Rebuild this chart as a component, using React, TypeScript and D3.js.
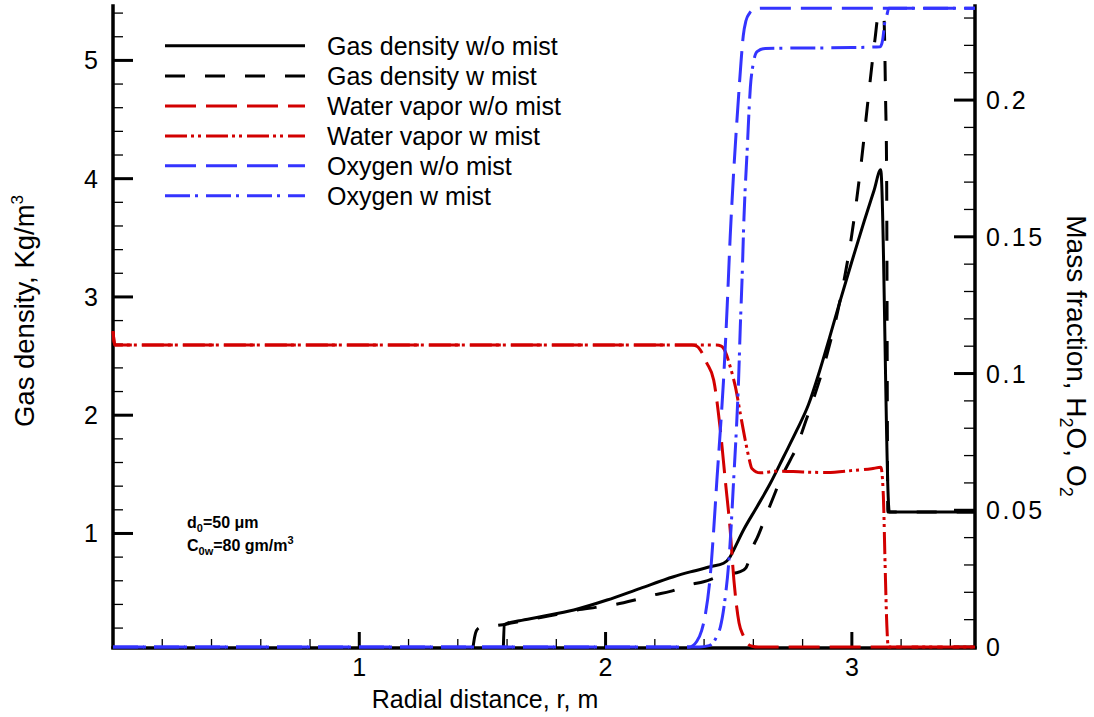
import React from 'react';
import * as d3 from 'd3';

const W = 1094;
const H = 717;
const X0 = 113;
const X1 = 975;
const YT = 6;
const YB = 647;

const xMajor = [1, 2, 3];
const leftMajor = [1, 2, 3, 4, 5];
const rightMajor = [0, 0.05, 0.1, 0.15, 0.2];
const rightLabels = ['0', '0.05', '0.1', '0.15', '0.2'];

// Gas density w/o mist (left axis)
const gasNoMistX = [1.585, 1.589, 1.6, 1.65, 1.736, 1.871, 2.006, 2.141, 2.276, 2.344, 2.425, 2.479, 2.506, 2.52, 2.56, 2.615, 2.669, 2.723, 2.777, 2.824, 2.87, 2.91, 2.95, 3.0, 3.05, 3.09, 3.117, 3.152, 3.2, 3.5];
const gasNoMistV = [0.04, 0.226, 0.24, 0.262, 0.296, 0.353, 0.437, 0.536, 0.634, 0.675, 0.719, 0.748, 0.803, 0.86, 1.029, 1.226, 1.424, 1.649, 1.875, 2.09, 2.38, 2.66, 2.95, 3.3, 3.64, 3.9, 4.075, 1.181, 1.181, 1.181];

// Gas density w mist (left axis)
const gasMistX = [1.462, 1.468, 1.476, 1.49, 1.53, 1.6, 1.65, 1.736, 1.8, 1.885, 1.96, 2.04, 2.114, 2.195, 2.263, 2.34, 2.398, 2.479, 2.547, 2.57, 2.588, 2.601, 2.615, 2.655, 2.682, 2.709, 2.75, 2.777, 2.805, 2.824, 2.9, 2.952, 3.0, 3.04, 3.066, 3.094, 3.107, 3.118, 3.13, 3.137, 3.141, 3.146, 3.2, 3.5];
const gasMistV = [0.04, 0.12, 0.18, 0.205, 0.215, 0.235, 0.255, 0.29, 0.315, 0.353, 0.375, 0.4, 0.435, 0.48, 0.51, 0.565, 0.592, 0.649, 0.677, 0.71, 0.81, 0.9, 0.96, 1.17, 1.31, 1.452, 1.621, 1.734, 1.903, 2.016, 2.52, 2.97, 3.53, 4.17, 4.67, 5.18, 5.38, 5.4, 5.37, 4.665, 4.1, 1.181, 1.181, 1.181];

// Water vapor w/o mist (right axis)
const vapNoMistX = [0, 0.008, 2.35, 2.37, 2.385, 2.41, 2.439, 2.466, 2.486, 2.506, 2.521, 2.542, 2.56, 2.574, 2.595, 2.62, 3.5];
const vapNoMistV = [0.1155, 0.1104, 0.1104, 0.11, 0.1086, 0.104, 0.0976, 0.0793, 0.061, 0.0428, 0.0245, 0.0088, 0.004, 0.0015, 0.0003, 0, 0];

// Water vapor w mist (right axis)
const vapMistX = [0, 0.008, 2.45, 2.47, 2.486, 2.506, 2.527, 2.547, 2.567, 2.581, 2.594, 2.628, 2.7, 2.8, 2.9, 3.0, 3.08, 3.118, 3.128, 3.135, 3.142, 3.148, 3.5];
const vapMistV = [0.1155, 0.1104, 0.1104, 0.11, 0.108, 0.1025, 0.0952, 0.0854, 0.0757, 0.0696, 0.0653, 0.0637, 0.0643, 0.064, 0.0638, 0.0645, 0.0652, 0.0657, 0.055, 0.03, 0.008, 0, 0];

// Oxygen w/o mist (right axis)
const oxNoMistX = [0, 2.34, 2.37, 2.39, 2.406, 2.426, 2.439, 2.452, 2.466, 2.479, 2.494, 2.506, 2.519, 2.53, 2.539, 2.55, 2.559, 2.57, 2.585, 2.605, 2.63, 3.5];
const oxNoMistV = [0, 0, 0.002, 0.006, 0.0123, 0.027, 0.0428, 0.061, 0.0793, 0.0976, 0.125, 0.15, 0.172, 0.188, 0.2, 0.214, 0.2235, 0.229, 0.2318, 0.2332, 0.2336, 0.2336];

// Oxygen w mist (right axis)
const oxMistX = [0, 2.38, 2.42, 2.436, 2.452, 2.466, 2.486, 2.5, 2.509, 2.52, 2.531, 2.54, 2.547, 2.554, 2.562, 2.575, 2.588, 2.6, 2.615, 2.648, 3.0, 3.115, 3.125, 3.135, 3.142, 3.15, 3.5];
const oxMistV = [0, 0, 0.0005, 0.0015, 0.004, 0.0073, 0.0183, 0.0307, 0.0428, 0.061, 0.0793, 0.0976, 0.117, 0.134, 0.157, 0.1818, 0.2048, 0.2135, 0.2177, 0.2189, 0.2192, 0.2195, 0.222, 0.2293, 0.231, 0.2336, 0.2336];

const legendLabels = ['Gas density w/o mist', 'Gas density w mist', 'Water vapor w/o mist', 'Water vapor w mist', 'Oxygen w/o mist', 'Oxygen w mist'];

const BLACK = '#000000';
const RED = '#d20000';
const BLUE = '#3434ff';
const FONT = 'Liberation Sans, Arial, Helvetica, sans-serif';

type Series = { xs: number[]; vs: number[]; axis: 'L' | 'R'; color: string; dash: string };

const series: Series[] = [
  { xs: gasNoMistX, vs: gasNoMistV, axis: 'L', color: BLACK, dash: 'none' },
  { xs: gasMistX, vs: gasMistV, axis: 'L', color: BLACK, dash: '20 20' },
  { xs: vapNoMistX, vs: vapNoMistV, axis: 'R', color: RED, dash: '31 10' },
  { xs: vapMistX, vs: vapMistV, axis: 'R', color: RED, dash: '22 4 3 4 3 5' },
  { xs: oxNoMistX, vs: oxNoMistV, axis: 'R', color: BLUE, dash: '31 10' },
  { xs: oxMistX, vs: oxMistV, axis: 'R', color: BLUE, dash: '25 5 3 8' },
];

function notMultiple(v: number, step: number) {
  const r = v / step;
  return Math.abs(r - Math.round(r)) > 1e-6;
}

export default function App() {
  const x = d3.scaleLinear().domain([0, 3.5]).range([X0, X1]);
  const yL = d3.scaleLinear().domain([0.04, 5.46]).range([YB, YT]);
  const yR = d3.scaleLinear().domain([0, 0.2344]).range([YB, YT]);

  const xMinor = d3.range(1, 18).map((i) => i * 0.2).filter((v) => v < 3.5 && notMultiple(v, 1));
  const leftMinor = d3.range(1, 28).map((i) => i * 0.2).filter((v) => v < 5.46 && notMultiple(v, 1));
  const rightMinor = d3.range(1, 24).map((i) => i * 0.01).filter((v) => v < 0.2344 && notMultiple(v, 0.05));

  const paths = series.map((s) => {
    const yy = s.axis === 'L' ? yL : yR;
    const gen = d3
      .line<[number, number]>()
      .x((d) => x(d[0]))
      .y((d) => yy(d[1]))
      .curve(d3.curveMonotoneX);
    return gen(d3.zip(s.xs, s.vs) as [number, number][]) || '';
  });

  const legendY = [45.7, 76, 106, 136, 165.7, 195.7];

  return (
    <svg width={W} height={H} style={{ position: 'absolute', left: 0, top: 0, background: '#fff' }} fontFamily={FONT}>
      <rect x={0} y={0} width={W} height={H} fill="#fff" />
      {/* minor ticks */}
      <g stroke="#000" strokeWidth={1.3}>
        {xMinor.map((v) => (
          <line key={'xm' + v} x1={x(v)} x2={x(v)} y1={YB} y2={YB - 8} />
        ))}
        {leftMinor.map((v) => (
          <line key={'lm' + v} x1={X0} x2={X0 + 10} y1={yL(v)} y2={yL(v)} />
        ))}
        {rightMinor.map((v) => (
          <line key={'rm' + v} x1={X1} x2={X1 - 11} y1={yR(v)} y2={yR(v)} />
        ))}
      </g>
      {/* major ticks */}
      <g stroke="#000" strokeWidth={3}>
        {xMajor.map((v) => (
          <line key={'xM' + v} x1={x(v)} x2={x(v)} y1={YB} y2={YB - 15} />
        ))}
        {leftMajor.map((v) => (
          <line key={'lM' + v} x1={X0} x2={X0 + 20} y1={yL(v)} y2={yL(v)} />
        ))}
        {rightMajor.map((v) => (
          <line key={'rM' + v} x1={X1} x2={X1 - 21} y1={yR(v)} y2={yR(v)} />
        ))}
      </g>
      {/* axis lines */}
      <g stroke="#000" strokeWidth={3.5} strokeLinecap="square">
        <line x1={X0} x2={X0} y1={YT} y2={YB} />
        <line x1={X1} x2={X1} y1={YT} y2={YB} />
        <line x1={X0} x2={X1} y1={YB + 1} y2={YB + 1} />
      </g>
      {/* tick labels */}
      <g fontSize={25} fill="#000">
        {xMajor.map((v) => (
          <text key={'xl' + v} x={x(v)} y={676} textAnchor="middle">
            {v}
          </text>
        ))}
        {leftMajor.map((v) => (
          <text key={'ll' + v} x={98} y={yL(v) + 9} textAnchor="end">
            {v}
          </text>
        ))}
        {rightMajor.map((v, i) => (
          <text key={'rl' + v} x={986} y={yR(v) + 9} letterSpacing={2.5}>
            {rightLabels[i]}
          </text>
        ))}
      </g>
      {/* axis titles */}
      <text x={485} y={708} fontSize={25} textAnchor="middle">
        Radial distance, r, m
      </text>
      <text transform="translate(34,311) rotate(-90)" fontSize={27.5} textAnchor="middle">
        Gas density, Kg/m<tspan fontSize={17} dy={-11}>3</tspan>
      </text>
      <text transform="translate(1067,356) rotate(90)" fontSize={28} textAnchor="middle">
        Mass fraction, H<tspan fontSize={18} dy={7}>2</tspan>
        <tspan dy={-7}>O, O</tspan>
        <tspan fontSize={18} dy={7}>2</tspan>
      </text>
      {/* curves */}
      <g fill="none" strokeWidth={3} strokeLinejoin="round">
        {series.map((s, i) => (
          <path key={'s' + i} d={paths[i]} stroke={s.color} strokeDasharray={s.dash === 'none' ? undefined : s.dash} />
        ))}
      </g>
      {/* legend */}
      <g>
        {series.map((s, i) => (
          <g key={'lg' + i}>
            <line x1={165} x2={305} y1={legendY[i]} y2={legendY[i]} stroke={s.color} strokeWidth={3} strokeDasharray={s.dash === 'none' ? undefined : s.dash} />
            <text x={327} y={legendY[i] + 9} fontSize={25}>
              {legendLabels[i]}
            </text>
          </g>
        ))}
      </g>
      {/* annotation */}
      <g fontSize={16} fontWeight="bold">
        <text x={187} y={528}>
          d<tspan fontSize={11} dy={4}>0</tspan>
          <tspan dy={-4}>=50 μm</tspan>
        </text>
        <text x={187} y={551}>
          C<tspan fontSize={11} dy={4}>0w</tspan>
          <tspan dy={-4}>=80 gm/m</tspan>
          <tspan fontSize={11} dy={-7}>3</tspan>
        </text>
      </g>
    </svg>
  );
}
